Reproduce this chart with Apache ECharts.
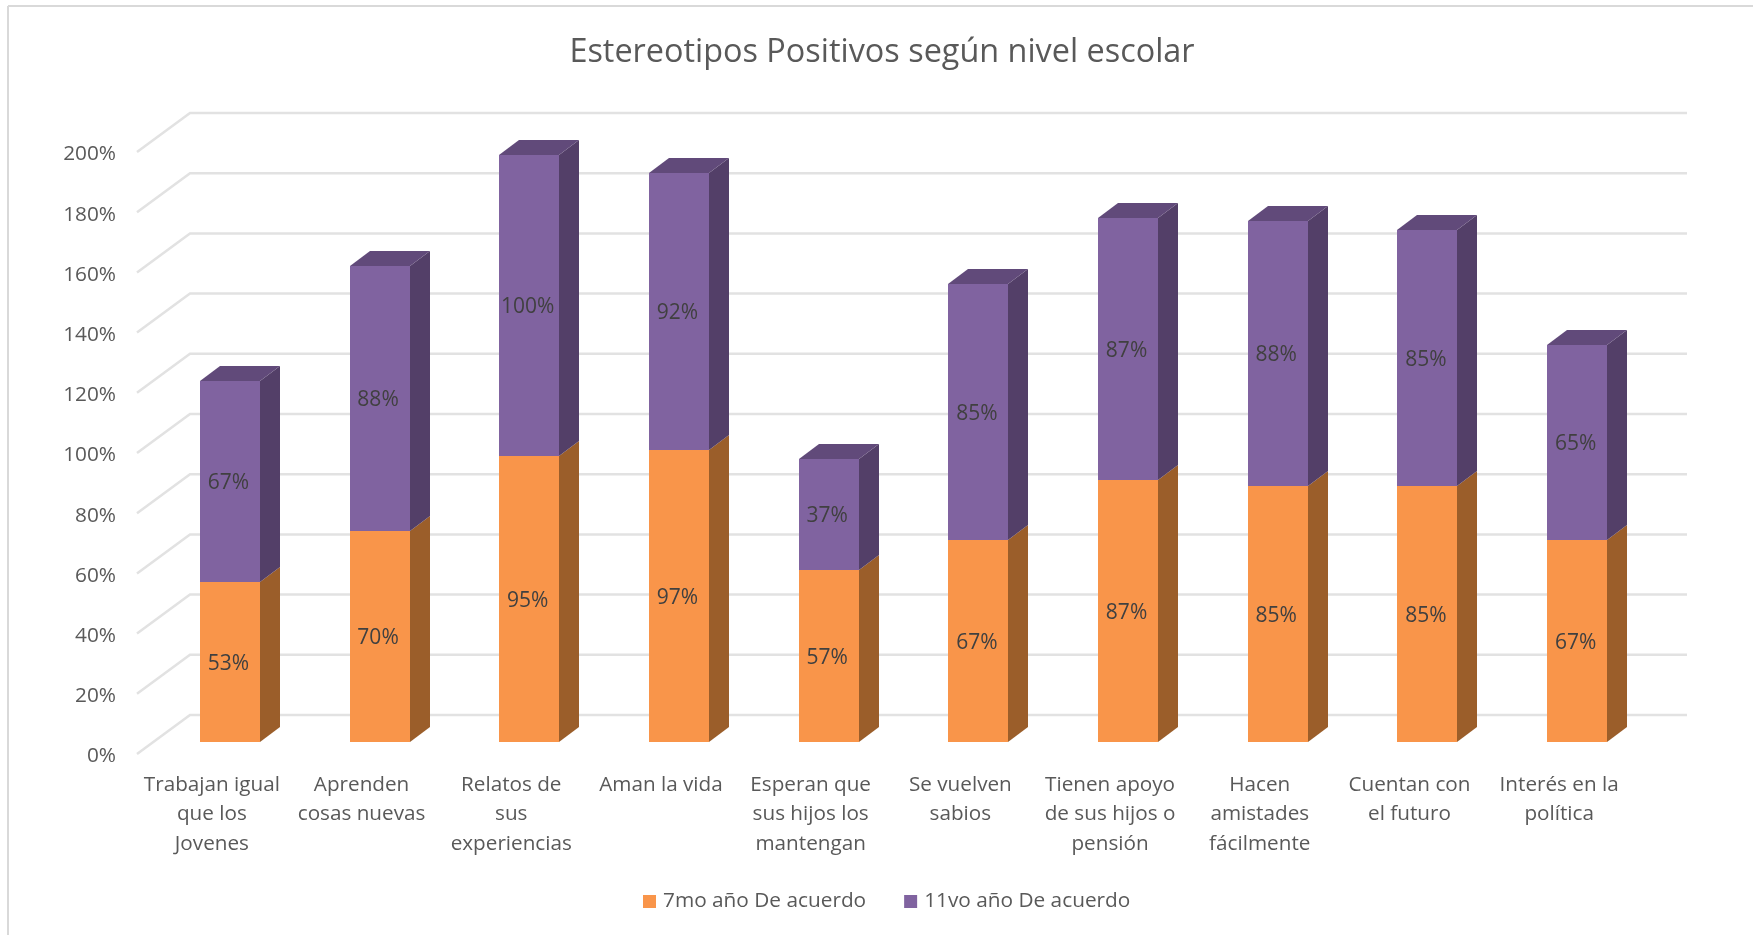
<!DOCTYPE html>
<html>
<head>
<meta charset="utf-8">
<title>Estereotipos Positivos según nivel escolar</title>
<script src="https://cdn.jsdelivr.net/npm/echarts@6/dist/echarts.min.js"></script>
<style>
  html, body { margin: 0; padding: 0; background: #fff; }
  #main { width: 1753px; height: 935px; }
</style>
</head>
<body>
<div id="main"></div>
<script>
// datos
var categories = [
    'Trabajan igual\nque los\nJovenes',
    'Aprenden\ncosas nuevas',
    'Relatos de\nsus\nexperiencias',
    'Aman la vida',
    'Esperan que\nsus hijos los\nmantengan',
    'Se vuelven\nsabios',
    'Tienen apoyo\nde sus hijos o\npensión',
    'Hacen\namistades\nfácilmente',
    'Cuentan con\nel futuro',
    'Interés en la\npolítica'
];
var septimo = [53, 70, 95, 97, 57, 67, 87, 85, 85, 67];
var onceavo = [67, 88, 100, 92, 37, 85, 87, 88, 85, 65];
var yTicks = [0, 20, 40, 60, 80, 100, 120, 140, 160, 180, 200];

var FONT = '"Open Sans", sans-serif';
var TEXT = '#595959';

// perspectiva falsa: fondo de la pared y de las barras
var WALL_DX = 53, WALL_DY = -39;
var BAR_DX = 18, BAR_DY = -12;
var LABEL_DX = 16.5, LABEL_DY = 2;
var DEPTH_DX = 20, DEPTH_DY = -15;

function wallItem(params, api) {
    var cs = params.coordSys;
    var y = api.coord([0, api.value(0)])[1];
    return {
        type: 'polyline',
        shape: {
            points: [
                [cs.x, y],
                [cs.x + WALL_DX, y + WALL_DY],
                [cs.x + cs.width + WALL_DX, y + WALL_DY]
            ]
        },
        style: { fill: null, stroke: '#e2e2e2', lineWidth: 2.5 }
    };
}

// barra 3D: cara frontal, lateral y tapa
function barRenderer(colors, withTop) {
    return function (params, api) {
        var idx = api.value(0);
        var low = api.coord([idx, api.value(1)]);
        var high = api.coord([idx, api.value(2)]);
        var w = Math.round(api.size([1, 0])[0] * 0.4);
        var x0 = Math.round(low[0] - w / 2 + BAR_DX), x1 = x0 + w;
        var yb = Math.round(low[1] + BAR_DY), yt = Math.round(high[1] + BAR_DY);
        var children = [{
            type: 'polygon',
            shape: { points: [[x1, yb], [x1 + DEPTH_DX, yb + DEPTH_DY], [x1 + DEPTH_DX, yt + DEPTH_DY], [x1, yt]] },
            style: { fill: colors.side }
        }];
        if (withTop) {
            children.push({
                type: 'polygon',
                shape: { points: [[x0, yt], [x0 + DEPTH_DX, yt + DEPTH_DY], [x1 + DEPTH_DX, yt + DEPTH_DY], [x1, yt]] },
                style: { fill: colors.top }
            });
        }
        children.push({
            type: 'rect',
            shape: { x: x0, y: yt, width: w, height: yb - yt },
            style: { fill: colors.front }
        });
        children.push({
            type: 'text',
            style: {
                text: (api.value(2) - api.value(1)) + '%',
                x: low[0] + LABEL_DX,
                y: (yb + yt) / 2 + LABEL_DY,
                align: 'center',
                verticalAlign: 'middle',
                fill: '#404040',
                font: '21px ' + FONT
            }
        });
        return { type: 'group', children: children };
    };
}

var dataSeptimo = septimo.map(function (v, i) { return [i, 0, v]; });
var dataOnceavo = onceavo.map(function (v, i) { return [i, septimo[i], septimo[i] + v]; });

var myChart = echarts.init(document.getElementById('main'));

var option = {
    animation: false,
    backgroundColor: '#fff',
    title: {
        text: 'Estereotipos Positivos según nivel escolar',
        left: 877,
        top: 32,
        textAlign: 'center',
        textStyle: { color: TEXT, fontFamily: FONT, fontSize: 32.4, fontWeight: 'normal' }
    },
    legend: {
        left: 643,
        top: 891,
        padding: 0,
        icon: 'rect',
        itemWidth: 13,
        itemHeight: 13,
        itemGap: 38,
        data: ['7mo año De acuerdo', '11vo año De acuerdo'],
        textStyle: { color: TEXT, fontFamily: FONT, fontSize: 20.8, padding: [0, 0, 0, 2] }
    },
    grid: { left: 137, right: 119, top: 152, bottom: 181 },
    xAxis: {
        type: 'category',
        data: categories,
        axisLine: { show: false },
        axisTick: { show: false },
        axisLabel: {
            color: TEXT,
            fontFamily: FONT,
            fontSize: 20.7,
            lineHeight: 29.5,
            interval: 0,
            margin: 16
        }
    },
    yAxis: {
        type: 'value',
        min: 0,
        max: 200,
        interval: 20,
        axisLine: { show: false },
        axisTick: { show: false },
        splitLine: { show: false },
        axisLabel: {
            margin: 21,
            formatter: '{t|{value}%}',
            rich: {
                t: {
                    color: TEXT,
                    fontFamily: FONT,
                    fontSize: 20.8,
                    padding: [5, 0, 0, 0]
                }
            }
        }
    },
    graphic: [
        { type: 'line', shape: { x1: 8, y1: 6, x2: 8, y2: 935 }, style: { stroke: '#d9d9d9', lineWidth: 2 } },
        { type: 'line', shape: { x1: 8, y1: 6, x2: 1753, y2: 6 }, style: { stroke: '#d9d9d9', lineWidth: 2 } }
    ],
    series: [{
        type: 'custom',
        name: 'pared',
        clip: false,
        silent: true,
        renderItem: wallItem,
        encode: { y: 0 },
        data: yTicks.map(function (t) { return [t]; })
    }, {
        type: 'custom',
        name: '7mo año De acuerdo',
        clip: false,
        itemStyle: { color: '#F9954A' },
        renderItem: barRenderer({ front: '#F9954A', side: '#9B5E2A', top: '#B56F32' }, false),
        encode: { x: 0, y: [1, 2] },
        data: dataSeptimo
    }, {
        type: 'custom',
        name: '11vo año De acuerdo',
        clip: false,
        itemStyle: { color: '#8063A0' },
        renderItem: barRenderer({ front: '#8063A0', side: '#533F68', top: '#614A7A' }, true),
        encode: { x: 0, y: [1, 2] },
        data: dataOnceavo
    }]
};

myChart.setOption(option, true);
</script>
</body>
</html>
